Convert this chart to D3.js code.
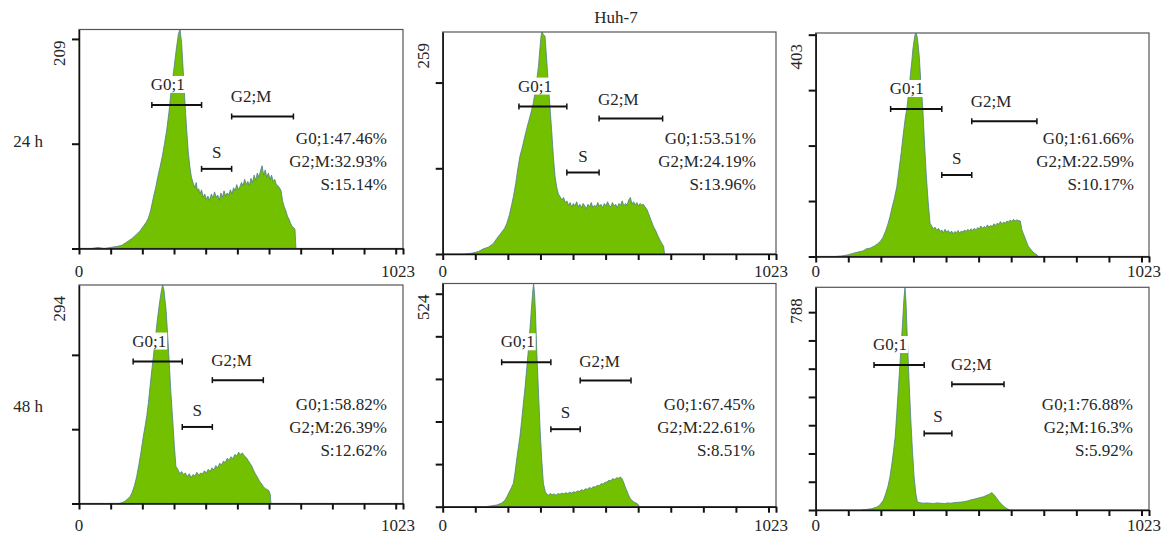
<!DOCTYPE html>
<html><head><meta charset="utf-8">
<script src="https://cdn.jsdelivr.net/npm/d3@7"></script>
<style>
body{margin:0;background:#fff}
svg{display:block}
text{font-family:"Liberation Serif","Times New Roman",serif;fill:#262626}
</style></head>
<body><svg id="chart" width="1175" height="539"></svg>
<script>
// ---------------- data ----------------
const title = "Huh-7";
const rowLabels = ["24 h", "48 h"];
const channelMax = 1023;
const xTickValues = [0, 100, 200, 300, 400, 500, 600, 700, 800, 900, 1000, 1023];
const xTickLabels = ["0", "1023"];
const yMaxLabels = [209, 259, 403, 294, 524, 788];
const yTickStep = 100;

// histogram counts [channel, count]
const hist24a = [[40,0],[60,1],[80,0],[100,1],[120,2],[135,3],[150,6],[165,9],[180,13],[193,17],[205,22],[212,25],[219,29],[226,36],[235,49],[242,58],[250,70],[256,78],[263,88],[270,100],[277,113],[284,130],[292,154],[300,172],[308,192],[314,205],[319,209],[324,196],[329,170],[334,142],[340,113],[345,92],[350,78],[355,68],[361,62],[366,58],[370,63],[374,55],[378,57],[382,52],[387,56],[392,49],[397,52],[402,47],[407,50],[412,46],[418,52],[423,48],[428,54],[433,49],[438,51],[443,46],[448,53],[453,49],[458,55],[463,50],[468,53],[473,51],[478,56],[483,52],[488,58],[493,55],[498,61],[503,56],[508,59],[513,63],[518,60],[523,66],[528,61],[533,64],[538,60],[543,67],[548,63],[553,70],[558,65],[563,72],[568,68],[573,74],[578,79],[583,70],[588,75],[593,68],[598,72],[603,66],[608,70],[613,64],[618,66],[623,61],[628,60],[633,58],[638,55],[643,45],[648,40],[653,36],[658,31],[663,28],[668,24],[673,21],[678,20],[682,18],[685,0]];
const hist24b = [[70,0],[90,1],[110,3],[125,6],[140,8],[155,12],[166,18],[178,24],[190,30],[197,36],[205,46],[212,58],[217,67],[224,82],[230,98],[237,114],[244,124],[250,134],[257,145],[264,155],[271,165],[278,176],[284,190],[289,204],[294,219],[298,238],[302,255],[305,259],[309,256],[314,254],[319,228],[324,199],[330,168],[335,141],[340,112],[345,90],[350,78],[355,70],[360,67],[366,63],[371,66],[376,60],[381,62],[386,57],[391,60],[396,55],[401,59],[406,56],[411,61],[416,55],[421,58],[426,54],[431,59],[436,56],[441,53],[446,58],[451,55],[456,60],[461,54],[466,57],[471,55],[476,60],[481,56],[486,58],[491,54],[496,59],[501,56],[506,61],[511,57],[516,55],[521,60],[526,56],[531,58],[536,54],[541,59],[546,57],[551,62],[556,56],[561,59],[566,57],[571,63],[576,66],[581,58],[586,61],[591,57],[596,60],[601,56],[606,59],[611,57],[616,58],[621,55],[627,52],[633,46],[640,39],[647,32],[654,27],[662,20],[670,14],[678,9],[681,0]];
const hist24c = [[60,0],[80,1],[100,3],[116,6],[130,8],[145,10],[156,14],[167,15],[180,19],[190,23],[198,27],[206,34],[214,45],[221,57],[228,72],[235,90],[242,106],[249,126],[256,158],[263,190],[269,222],[275,250],[280,268],[285,294],[291,330],[295,352],[298,372],[302,390],[305,400],[308,403],[312,395],[315,378],[318,360],[322,320],[326,290],[329,264],[334,205],[339,150],[345,100],[351,60],[356,55],[361,50],[366,53],[372,47],[377,51],[382,45],[387,48],[392,43],[397,49],[402,44],[407,47],[412,42],[417,46],[422,41],[427,45],[432,43],[437,47],[442,42],[447,46],[452,44],[457,48],[462,45],[467,49],[472,46],[477,50],[482,47],[487,51],[492,48],[497,52],[502,50],[507,55],[512,51],[517,54],[522,52],[527,57],[532,53],[537,56],[542,54],[547,59],[552,56],[557,60],[562,58],[567,63],[572,59],[577,62],[582,60],[587,64],[592,62],[597,66],[602,63],[607,67],[612,64],[617,66],[622,65],[628,64],[633,48],[638,40],[643,33],[648,25],[653,18],[660,13],[667,8],[674,5],[679,3],[684,0]];
const hist48a = [[125,0],[135,1],[145,3],[153,6],[161,9],[168,15],[175,24],[182,36],[189,52],[196,70],[203,90],[209,105],[214,118],[219,135],[225,160],[230,180],[235,198],[240,218],[245,238],[250,256],[255,272],[260,286],[264,294],[268,288],[272,272],[275,260],[280,226],[285,189],[290,150],[296,112],[301,78],[306,50],[312,46],[318,40],[324,43],[330,39],[336,41],[342,36],[348,40],[354,35],[360,39],[366,37],[372,42],[378,38],[384,41],[390,40],[396,44],[402,41],[408,46],[414,43],[420,48],[426,45],[432,51],[438,48],[444,54],[450,52],[456,57],[462,55],[468,61],[474,58],[480,63],[486,60],[492,66],[498,64],[504,69],[510,66],[516,68],[522,64],[528,62],[534,58],[540,54],[546,50],[552,44],[558,39],[564,35],[570,30],[576,27],[582,23],[588,20],[594,19],[600,17],[604,12],[606,0]];
const hist48b = [[130,0],[150,2],[166,4],[180,8],[190,14],[197,23],[204,34],[211,45],[217,55],[222,80],[227,110],[232,138],[237,164],[242,200],[247,238],[253,282],[258,325],[262,360],[266,399],[270,440],[274,482],[277,510],[279,524],[282,500],[285,450],[289,360],[294,270],[299,180],[304,110],[309,55],[315,35],[320,29],[324,27],[330,31],[336,28],[342,30],[348,27],[354,31],[360,29],[366,32],[372,30],[378,33],[384,31],[390,34],[396,32],[402,35],[408,34],[414,37],[420,36],[426,40],[432,38],[438,42],[444,41],[450,45],[456,43],[462,47],[468,46],[474,50],[480,49],[486,54],[492,53],[498,57],[504,58],[510,62],[516,61],[522,66],[528,64],[534,68],[540,67],[545,70],[550,66],[555,58],[560,47],[565,38],[570,28],[575,20],[582,14],[589,10],[596,8],[601,4],[603,0]];
const hist48c = [[140,0],[155,2],[170,4],[187,10],[197,18],[208,35],[215,58],[222,85],[228,118],[234,165],[239,210],[244,259],[249,345],[254,436],[259,525],[264,613],[268,690],[271,750],[274,788],[277,740],[281,613],[286,470],[292,318],[297,210],[302,118],[307,60],[312,29],[320,26],[330,24],[340,25],[351,24],[362,23],[373,25],[384,24],[395,23],[406,25],[413,24],[425,26],[436,27],[447,28],[458,30],[469,33],[474,35],[485,38],[495,41],[505,44],[515,47],[525,52],[533,56],[538,60],[541,61],[545,57],[550,50],[556,41],[563,30],[570,21],[576,14],[584,7],[592,2],[596,0]];
const histograms = [hist24a, hist24b, hist24c, hist48a, hist48b, hist48c];

// gates [start channel, end channel] and marker height (counts)
const gateG01 = [[230,387],[234,381],[230,387],[171,326],[181,332],[179,333]];
const gateS   = [[387,482],[381,480],[387,479],[326,421],[332,422],[333,418]];
const gateG2M = [[482,677],[480,675],[479,679],[421,582],[422,578],[418,578]];
const gateG01Level = [137,172,266,191,339,513];
const gateSLevel   = [76,95,147,103,182,271];
const gateG2MLevel = [126,158,244,166,296,445];
const gateNames = ["G0;1", "S", "G2;M"];

const pctG01 = ["47.46","53.51","61.66","58.82","67.45","76.88"];
const pctG2M = ["32.93","24.19","22.59","26.39","22.61","16.3"];
const pctS   = ["15.14","13.96","10.17","12.62","8.51","5.92"];

// ---------------- layout ----------------
const frames = [
  {l:79,    r:403,  t:29.5,  b:248.5, row:0, pctR:16},
  {l:442.7, r:776,  t:32,    b:254,   row:0, pctR:20},
  {l:815.7, r:1149, t:33,    b:256.5, row:0, pctR:15},
  {l:79,    r:403,  t:285,   b:503.5, row:1, pctR:16},
  {l:442.7, r:776,  t:283.5, b:506.7, row:1, pctR:21},
  {l:815.7, r:1149, t:287.3, b:510,   row:1, pctR:16}
];
const xLabelBase = [277, 531];
const pctBase = [143.5, 409.5];
const pctStep = 23.3;
const FS = 17;

const svg = d3.select("#chart");
const defs = svg.append("defs");

svg.append("text").attr("x", 616).attr("y", 23).attr("text-anchor", "middle")
  .style("font-size", FS + "px").text(title);
svg.append("text").attr("x", 43).attr("y", 147).attr("text-anchor", "end")
  .style("font-size", FS + "px").text(rowLabels[0]);
svg.append("text").attr("x", 43).attr("y", 412).attr("text-anchor", "end")
  .style("font-size", FS + "px").text(rowLabels[1]);

frames.forEach((f, i) => {
  const g = svg.append("g");
  const x = d3.scaleLinear().domain([0, channelMax]).range([f.l, f.r]);
  const y = d3.scaleLinear().domain([0, yMaxLabels[i]]).range([f.b, f.t]);

  defs.append("clipPath").attr("id", "clip" + i).append("rect")
    .attr("x", f.l).attr("y", f.t).attr("width", f.r - f.l).attr("height", f.b - f.t);

  const data = histograms[i];
  const area = d3.area().x(d => x(d[0])).y0(y(0)).y1(d => y(d[1]));
  const line = d3.line().x(d => x(d[0])).y(d => y(d[1]));
  const hg = g.append("g").attr("clip-path", "url(#clip" + i + ")");
  hg.append("path").datum(data).attr("d", area).attr("fill", "#72c000");
  hg.append("path").datum(data).attr("d", line).attr("fill", "none")
    .attr("stroke", "#4f7f86").attr("stroke-width", 0.8);

  // frame
  g.append("rect").attr("x", f.l).attr("y", f.t).attr("width", f.r - f.l).attr("height", f.b - f.t)
    .attr("fill", "none").attr("stroke", "#555").attr("stroke-width", 1.2);

  // axes
  const yAxis = d3.axisLeft(y).tickValues(d3.range(0, yMaxLabels[i] + 1, yTickStep))
    .tickSize(7).tickSizeOuter(0).tickFormat("");
  const ya = g.append("g").attr("transform", `translate(${f.l},0)`).call(yAxis);
  const xAxis = d3.axisBottom(x).tickValues(xTickValues).tickSize(6).tickSizeOuter(0).tickFormat("");
  const xa = g.append("g").attr("transform", `translate(0,${f.b})`).call(xAxis);
  [ya, xa].forEach(a => {
    a.select(".domain").attr("stroke", "#111").attr("stroke-width", 1.5);
    a.selectAll(".tick line").attr("stroke", "#111").attr("stroke-width", 2);
  });

  // tick labels
  g.append("text").attr("x", x(0)).attr("y", xLabelBase[f.row]).attr("text-anchor", "middle")
    .style("font-size", FS + "px").text(xTickLabels[0]);
  g.append("text").attr("x", x(channelMax) - 5).attr("y", xLabelBase[f.row]).attr("text-anchor", "middle")
    .style("font-size", FS + "px").text(xTickLabels[1]);
  g.append("text").attr("transform", `translate(${f.l - 14},${f.t + 11}) rotate(-90)`)
    .attr("text-anchor", "end").style("font-size", FS + "px").text(yMaxLabels[i]);

  // gates
  const gates = [
    {name: gateNames[0], r: gateG01[i], lvl: gateG01Level[i], anchor: "start", dy: -15, bg: true},
    {name: gateNames[1], r: gateS[i],   lvl: gateSLevel[i],   anchor: "middle", dy: -11, bg: false},
    {name: gateNames[2], r: gateG2M[i], lvl: gateG2MLevel[i], anchor: "start", dy: -14, bg: false}
  ];
  gates.forEach(gt => {
    const x0 = x(gt.r[0]), x1 = x(gt.r[1]), yy = y(gt.lvl);
    const tx = gt.anchor === "middle" ? (x0 + x1) / 2 : x0 - 1;
    const lg = g.append("g");
    const t = lg.append("text").attr("x", tx).attr("y", yy + gt.dy).attr("text-anchor", gt.anchor)
      .style("font-size", FS + "px").text(gt.name);
    if (gt.bg) {
      const bb = t.node().getBBox();
      lg.insert("rect", "text").attr("x", bb.x - 1).attr("y", bb.y + 1)
        .attr("width", bb.width + 2).attr("height", bb.height - 2).attr("fill", "#fff");
    }
    g.append("line").attr("x1", x0).attr("x2", x1).attr("y1", yy).attr("y2", yy)
      .attr("stroke", "#111").attr("stroke-width", 2);
    [x0, x1].forEach(xe => g.append("line").attr("x1", xe).attr("x2", xe)
      .attr("y1", yy - 3).attr("y2", yy + 3).attr("stroke", "#111").attr("stroke-width", 1.5));
  });

  // percentages
  const lines = [gateNames[0] + ":" + pctG01[i] + "%", gateNames[2] + ":" + pctG2M[i] + "%", gateNames[1] + ":" + pctS[i] + "%"];
  lines.forEach((s, k) => {
    g.append("text").attr("x", f.r - f.pctR).attr("y", pctBase[f.row] + k * pctStep)
      .attr("text-anchor", "end").style("font-size", FS + "px").text(s);
  });
});
</script></body></html>
